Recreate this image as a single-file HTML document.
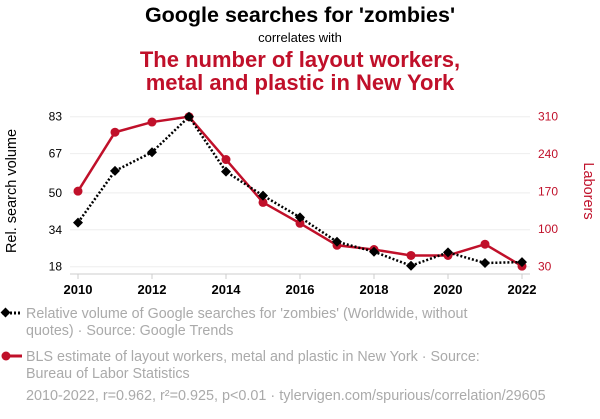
<!DOCTYPE html>
<html><head><meta charset="utf-8"><style>
body{margin:0;background:#fff;font-family:"Liberation Sans",sans-serif;}
svg text{font-family:"Liberation Sans",sans-serif;}
</style></head><body>
<svg width="600" height="414" viewBox="0 0 600 414">
<text x="300" y="22" text-anchor="middle" font-size="21.5" font-weight="bold" fill="#000">Google searches for 'zombies'</text>
<text x="300" y="42" text-anchor="middle" font-size="13" fill="#000">correlates with</text>
<text x="300" y="67" text-anchor="middle" font-size="22" font-weight="bold" fill="#c0102a">The number of layout workers,</text>
<text x="300" y="90" text-anchor="middle" font-size="22" font-weight="bold" fill="#c0102a">metal and plastic in New York</text>
<g id="grid"></g>
<g id="axes"></g>
<g id="marks"></g>
<text transform="translate(16,191) rotate(-90)" text-anchor="middle" font-size="14.5" fill="#000">Rel. search volume</text>
<text transform="translate(584,191) rotate(90)" text-anchor="middle" font-size="14.5" fill="#c0102a">Laborers</text>
<g>
<line x1="2" y1="313" x2="22" y2="313" stroke="#000" stroke-width="3" stroke-dasharray="2,2"/>
<rect x="2" y="309" width="7" height="7" transform="rotate(45 5.5 312.5)" fill="#000"/>
<text x="26" y="318" font-size="14.3" fill="#aaa">Relative volume of Google searches for 'zombies' (Worldwide, without</text>
<text x="26" y="335" font-size="14.3" fill="#aaa">quotes) · Source: Google Trends</text>
</g>
<g>
<line x1="2" y1="356" x2="22" y2="356" stroke="#c0102a" stroke-width="3"/>
<circle cx="6" cy="356" r="4.5" fill="#c0102a"/>
<text x="26" y="361" font-size="14.3" fill="#aaa">BLS estimate of layout workers, metal and plastic in New York · Source:</text>
<text x="26" y="378" font-size="14.3" fill="#aaa">Bureau of Labor Statistics</text>
</g>
<text x="26" y="400" font-size="14.4" fill="#aaa">2010-2022, r=0.962, r²=0.925, p&lt;0.01 · tylervigen.com/spurious/correlation/29605</text>
</svg>
<script>
const years=[2010,2011,2012,2013,2014,2015,2016,2017,2018,2019,2020,2021,2022];
const searches=[37.1,59.5,67.6,83,59.2,48.8,39.4,28.8,24.5,18.4,24.2,19.6,20.0];
const laborers=[171,281,300,310,230,150,111,70,62,51,51,72,31];
const leftTicks=[18,34,50,67,83];
const rightTicks=[30,100,170,240,310];
const xTicks=[2010,2012,2014,2016,2018,2020,2022];
const NS="http://www.w3.org/2000/svg";
const x=y=>78+(y-2010)/12*444;
const yL=v=>266.7-(v-18)/65*150;
const yR=v=>266.7-(v-30)/280*150;
function mk(tag,attrs,parent,txt){const e=document.createElementNS(NS,tag);for(const k in attrs)e.setAttribute(k,attrs[k]);if(txt!==undefined)e.textContent=txt;parent.appendChild(e);return e;}
const grid=document.getElementById('grid'),axes=document.getElementById('axes'),marks=document.getElementById('marks');
leftTicks.forEach((t,i)=>{
  const g=mk('line',{x1:70,x2:530,y1:yL(t),y2:yL(t),stroke:'#eee','stroke-width':1},grid);
  
  
  const lt=mk('text',{x:62,y:yL(t)+4,'text-anchor':'end','font-size':12,fill:'#000'},axes,t);
  
  
});
rightTicks.forEach(t=>{
  const rt=mk('text',{x:538,y:yR(t)+4,'font-size':12,fill:'#c0102a'},axes,t);
  
  
});
const base=mk('line',{x1:70,x2:530,y1:274,y2:274,stroke:'#ccc'},axes);


xTicks.forEach(t=>{
  mk('line',{x1:x(t),x2:x(t),y1:274,y2:279,stroke:'#ccc'},axes);
  const xt=mk('text',{x:x(t),y:294,'text-anchor':'middle','font-size':13,'font-weight':'bold',fill:'#000'},axes,t);
  
  
});
const rl=mk('polyline',{points:years.map((y,i)=>x(y)+','+yR(laborers[i])).join(' '),fill:'none',stroke:'#c0102a','stroke-width':2.5},marks);


years.forEach((y,i)=>{
  const c=mk('circle',{cx:x(y),cy:yR(laborers[i]),r:4.5,fill:'#c0102a'},marks);
  
  
});
const bl=mk('polyline',{points:years.map((y,i)=>x(y)+','+yL(searches[i])).join(' '),fill:'none',stroke:'#000','stroke-width':2.5,'stroke-dasharray':'2,2'},marks);


years.forEach((y,i)=>{
  const cx=x(y),cy=yL(searches[i]);
  const d=mk('polygon',{points:`${cx},${cy-5} ${cx+5},${cy} ${cx},${cy+5} ${cx-5},${cy}`,fill:'#000'},marks);
  
  
});
</script>
</body></html>
